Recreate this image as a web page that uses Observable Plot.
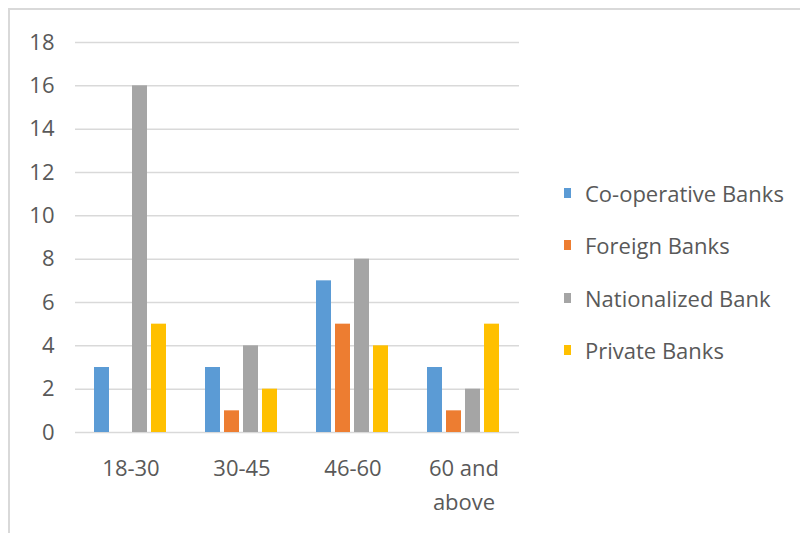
<!DOCTYPE html>
<html>
<head>
<meta charset="utf-8">
<script src="https://cdn.jsdelivr.net/npm/d3@7"></script>
<script src="https://cdn.jsdelivr.net/npm/@observablehq/plot@0.6"></script>
<style>
  html, body { margin: 0; padding: 0; background: #ffffff; }
  #wrap { position: relative; width: 800px; height: 533px; overflow: hidden; background: #fff; }
  #frame { position: absolute; left: 8px; top: 8px; width: 900px; height: 700px;
           border-top: 2px solid #d9d9d9; border-left: 2px solid #d9d9d9; box-sizing: border-box; }
  #chart { position: absolute; left: 0; top: 0; }
  #legend { position: absolute; left: 564px; top: 0; font-family: "Open Sans", sans-serif;
            font-size: 22px; color: #595959; }
  .item { position: absolute; left: 0; white-space: nowrap; height: 24px; line-height: 24px; }
  .key { position: absolute; left: 0; top: 7px; width: 7px; height: 10px; }
  .lab { position: absolute; left: 21px; top: 0; }
</style>
</head>
<body>
<div id="wrap">
  <div id="frame"></div>
  <div id="chart"></div>
  <div id="legend"></div>
</div>
<script>
const categories = ["18-30", "30-45", "46-60", "60 and above"];
const series = ["Co-operative Banks", "Foreign Banks", "Nationalized Bank", "Private Banks"];
const coopValues = [3, 3, 7, 3];
const foreignValues = [0, 1, 5, 1];
const nationalizedValues = [16, 4, 8, 2];
const privateValues = [5, 2, 4, 5];
const seriesColors = ["#5B9BD5", "#ED7D31", "#A5A5A5", "#FFC000"];
const yTicks = [0, 2, 4, 6, 8, 10, 12, 14, 16, 18];

const valueLists = [coopValues, foreignValues, nationalizedValues, privateValues];
const rows = [];
categories.forEach((c, i) => {
  series.forEach((s, j) => rows.push({category: c, series: s, value: valueLists[j][i]}));
});

const chart = Plot.plot({
  width: 800,
  height: 533,
  marginLeft: 73,
  marginRight: 280,
  marginTop: 42,
  marginBottom: 101,
  style: {fontFamily: "'Open Sans', sans-serif", fontSize: "22px", color: "#595959", background: "transparent"},
  fx: {domain: categories, paddingInner: 0, paddingOuter: 0, label: null},
  x: {domain: series, paddingInner: 0.2, paddingOuter: 0.9, axis: null},
  y: {domain: [0, 18], ticks: yTicks, label: null},
  color: {domain: series, range: seriesColors},
  marks: [
    Plot.gridY(yTicks, {stroke: "#d9d9d9", strokeOpacity: 1, strokeWidth: 1.5}),
    Plot.axisY(yTicks, {tickSize: 0, tickPadding: 21, label: null, fontSize: 22}),
    Plot.axisFx({anchor: "bottom", tickSize: 0, tickPadding: 19, label: null, fontSize: 22, lineHeight: 1.55,
      tickFormat: d => d === "60 and above" ? "60 and\nabove" : d}),
    Plot.barY(rows, {fx: "category", x: "series", y: "value", fill: "series"})
  ]
});
document.getElementById("chart").appendChild(chart);

const legendTops = [193, 245, 298, 350];
const legend = document.getElementById("legend");
series.forEach((s, i) => {
  const item = document.createElement("div");
  item.className = "item";
  item.style.top = (legendTops[i] - 12) + "px";
  const key = document.createElement("div");
  key.className = "key";
  key.style.background = seriesColors[i];
  const lab = document.createElement("div");
  lab.className = "lab";
  lab.textContent = s;
  item.appendChild(key);
  item.appendChild(lab);
  legend.appendChild(item);
});
</script>
</body>
</html>
